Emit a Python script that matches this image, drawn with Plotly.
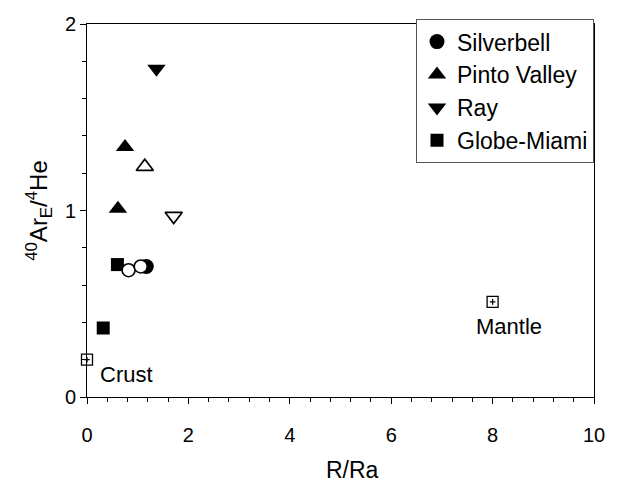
import plotly.graph_objects as go

# ---- data ----
silverbell_x = [1.17]
silverbell_y = [0.70]
silverbell_open_x = [0.82, 1.06]
silverbell_open_y = [0.68, 0.70]

pinto_x = [0.75, 0.61]
pinto_y = [1.34, 1.01]
pinto_open_x = [1.14]
pinto_open_y = [1.235]

ray_x = [1.37]
ray_y = [1.76]
ray_open_x = [1.71]
ray_open_y = [0.97]

globe_x = [0.60, 0.32]
globe_y = [0.71, 0.37]

ref_names = ["Crust", "Mantle"]
ref_x = [0.0, 8.0]
ref_y = [0.20, 0.51]

x_range = [0, 10]
y_range = [0, 2]

FONT = "Liberation Sans, Arial, sans-serif"
BLACK = "black"

fig = go.Figure()

def filled(x, y, name, symbol, size):
    return go.Scatter(x=x, y=y, mode="markers", name=name,
                      marker=dict(symbol=symbol, size=size, color=BLACK,
                                  line=dict(width=0)),
                      cliponaxis=False)

def hollow(x, y, symbol, size):
    return go.Scatter(x=x, y=y, mode="markers", showlegend=False,
                      marker=dict(symbol=symbol, size=size, color="white",
                                  line=dict(width=1.6, color=BLACK)),
                      cliponaxis=False)

fig.add_trace(filled(silverbell_x, silverbell_y, "Silverbell", "circle", 15))
fig.add_trace(filled(pinto_x, pinto_y, "Pinto Valley", "triangle-up", 16))
fig.add_trace(filled(ray_x, ray_y, "Ray", "triangle-down", 16))
fig.add_trace(filled(globe_x, globe_y, "Globe-Miami", "square", 13))

fig.add_trace(hollow(silverbell_open_x, silverbell_open_y, "circle", 13))
fig.add_trace(hollow(pinto_open_x, pinto_open_y, "triangle-up", 15))
fig.add_trace(hollow(ray_open_x, ray_open_y, "triangle-down", 15))

# reference end-members: open square with small plus
fig.add_trace(go.Scatter(x=ref_x, y=ref_y, mode="markers", showlegend=False,
                         marker=dict(symbol="square", size=11, color="white",
                                     line=dict(width=1.3, color=BLACK)),
                         cliponaxis=False))
fig.add_trace(go.Scatter(x=ref_x, y=ref_y, mode="markers", showlegend=False,
                         marker=dict(symbol="cross-thin-open", size=4, color=BLACK,
                                     line=dict(width=1.3, color=BLACK)),
                         cliponaxis=False))

label_shift = {"Crust": (39, -15), "Mantle": (16, -25)}
for name, x, y in zip(ref_names, ref_x, ref_y):
    dx, dy = label_shift[name]
    fig.add_annotation(x=x, y=y, text=name, showarrow=False,
                       xanchor="center", yanchor="middle",
                       xshift=dx, yshift=dy,
                       font=dict(family=FONT, size=22, color=BLACK))

# x-axis title placed as paper annotation (slightly right of centre, as in original)
fig.add_annotation(xref="paper", yref="paper", x=0.523, y=-0.236,
                   xanchor="center", yanchor="bottom", showarrow=False,
                   text="R/Ra", font=dict(family=FONT, size=23, color=BLACK))

axis_common = dict(showline=True, linecolor=BLACK, linewidth=1, mirror=True,
                   ticks="outside", ticklen=6, tickwidth=1, tickcolor=BLACK,
                   showgrid=False, zeroline=False,
                   tickfont=dict(family=FONT, size=20, color=BLACK))

fig.update_xaxes(range=x_range, tickmode="linear", tick0=0, dtick=2,
                 minor=dict(tickmode="linear", tick0=0, dtick=0.4, ticks="outside",
                            ticklen=4, tickwidth=1, tickcolor=BLACK, showgrid=False),
                 ticklabelstandoff=14,
                 **axis_common)
fig.update_yaxes(range=y_range, tickmode="linear", tick0=0, dtick=1,
                 minor=dict(tickmode="linear", tick0=0, dtick=0.2, ticks="outside",
                            ticklen=4, tickwidth=1, tickcolor=BLACK, showgrid=False),
                 title=dict(text="<sup>40</sup>Ar<sub>E</sub>/<sup>4</sup>He",
                            font=dict(family=FONT, size=24, color=BLACK),
                            standoff=10),
                 **axis_common)

fig.update_layout(
    width=617, height=486,
    margin=dict(l=87, r=20, t=24, b=89),
    paper_bgcolor="white", plot_bgcolor="white",
    font=dict(family=FONT, color=BLACK),
    legend=dict(x=1, xanchor="right", y=1.013, yanchor="top",
                bgcolor="white", bordercolor="#555555", borderwidth=1,
                font=dict(family=FONT, size=23, color=BLACK),
                tracegroupgap=0, itemwidth=30),
    showlegend=True,
)

fig.write_html("out.html")
